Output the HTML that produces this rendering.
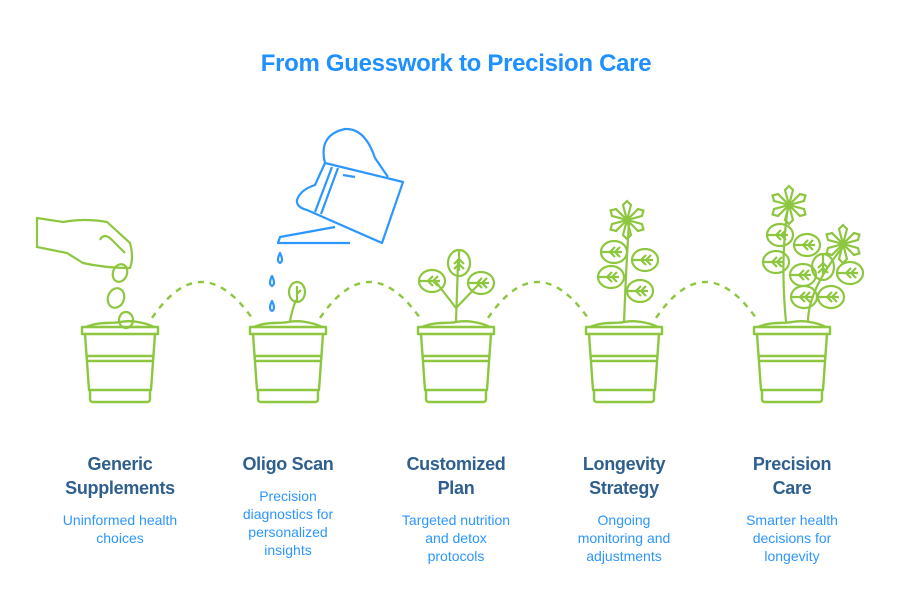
<!DOCTYPE html>
<html><head><meta charset="utf-8"><style>
body{margin:0;width:912px;height:612px;background:#fff;position:relative;overflow:hidden;font-family:"Liberation Sans",sans-serif}
.t{position:absolute;text-align:center;width:170px;}
.h{font-weight:bold;font-size:18px;line-height:24px;color:#2f5f8e;letter-spacing:-0.3px}
.d{font-size:14px;line-height:18px;color:#2d96ff}
h1{position:absolute;top:50px;left:0;width:912px;margin:0;text-align:center;font-size:24px;color:#1e90ff;font-weight:bold;letter-spacing:-0.3px}
</style></head><body>
<h1>From Guesswork to Precision Care</h1>
<svg width="912" height="612" style="position:absolute;left:0;top:0">
<defs>
<g id="pot" fill="none" stroke="#8dc63f" stroke-width="2.4" stroke-linejoin="round">
<path d="M-34,327 C-20,321 -8,324 0,322 C10,320 24,322 34,327"/>
<rect x="-38" y="327" width="76" height="7"/>
<path d="M-35,334 L-31,390 L31,390 L35,334"/>
<line x1="-33" y1="356" x2="33" y2="356"/><line x1="-33" y1="361" x2="33" y2="361"/>
<path d="M-30,390 L-30,399 Q-30,402 -27,402 L27,402 Q30,402 30,399 L30,390"/>
</g>
<g id="leaf" fill="none" stroke="#8dc63f" stroke-width="2.2"><ellipse cx="0" cy="0" rx="13" ry="11"/><path d="M-13,0 L8,0 M1,0 L6,-5 M1,0 L6,5 M-4,0 L1,-5 M-4,0 L1,5"/></g>
<g id="flw" fill="none" stroke="#8dc63f" stroke-width="2.2"><path d="M0,0 L-4,-15 L0,-19 L4,-15 Z"/><path d="M0,0 L-4,-15 L0,-19 L4,-15 Z" transform="rotate(60)"/><path d="M0,0 L-4,-15 L0,-19 L4,-15 Z" transform="rotate(120)"/><path d="M0,0 L-4,-15 L0,-19 L4,-15 Z" transform="rotate(180)"/><path d="M0,0 L-4,-15 L0,-19 L4,-15 Z" transform="rotate(240)"/><path d="M0,0 L-4,-15 L0,-19 L4,-15 Z" transform="rotate(300)"/></g>
</defs>
<g fill="none" stroke="#8dc63f" stroke-width="2.4" stroke-dasharray="6,6">
<path d="M152,318 Q201,246 252,318"/><path d="M320,318 Q369,246 420,318"/><path d="M488,318 Q537,246 588,318"/><path d="M656,318 Q705,246 756,318"/>
</g>
<use href="#pot" x="120"/><use href="#pot" x="288"/><use href="#pot" x="456"/><use href="#pot" x="624"/><use href="#pot" x="792"/>
<g fill="none" stroke="#8dc63f" stroke-width="2.2">
<path d="M37,218 L37,247 L67,253 L83,263 Q105,268 130,268 Q134,258 130,243 L107,222 Q85,218 63,222 Z"/>
<path d="M100,240 Q104,232 112,240 L125,253"/>
<ellipse cx="120" cy="273" rx="7" ry="9" transform="rotate(20 120 273)"/>
<ellipse cx="116" cy="298" rx="8" ry="10" transform="rotate(20 116 298)"/>
<ellipse cx="126" cy="320" rx="7" ry="8"/>
<path d="M290,321 Q292,310 296,300"/><ellipse cx="297" cy="292" rx="8" ry="10"/><path d="M297,286 L297,302 M297,294 L301,290"/>
<path d="M456,322 L458,262 M456,308 L436,282 M456,308 L480,283"/>
<path d="M624,322 Q626,270 629,222"/>
<path d="M786,322 Q780,260 788,207 M808,322 Q808,290 842,248"/>
</g>
<use href="#leaf" x="459" y="263" transform="rotate(90 459 263)"/><use href="#leaf" x="432" y="281"/><use href="#leaf" x="481" y="283"/>
<use href="#flw" x="627" y="220"/>
<use href="#leaf" x="614" y="252"/><use href="#leaf" x="645" y="260"/><use href="#leaf" x="611" y="277"/><use href="#leaf" x="640" y="291"/>
<use href="#flw" x="789" y="205"/><use href="#flw" x="843" y="244"/>
<use href="#leaf" x="780" y="235"/><use href="#leaf" x="807" y="245"/><use href="#leaf" x="776" y="262"/><use href="#leaf" x="803" y="275"/><use href="#leaf" x="823" y="267" transform="rotate(90 823 267)"/><use href="#leaf" x="850" y="273"/><use href="#leaf" x="804" y="297"/><use href="#leaf" x="831" y="297"/>
<g fill="none" stroke="#2d96ff" stroke-width="2.2" stroke-linejoin="round">
<path d="M325,163 L403,182 L382,243 L307,210 Q296,207 297,200 Q300,190 315,185 Z"/>
<path d="M325,163 Q318,135 345,129 Q365,128 375,158 L388,177"/>
<path d="M332,167 L315,212 M338,168 L321,214"/>
<path d="M343,175 L355,177"/>
<path d="M335,227 L280,237 L278,243 L350,243"/>
<path d="M280,253 Q276,261 280,263 Q284,261 280,253Z M272,276 Q268,284 272,286 Q276,284 272,276Z M272,301 Q268,309 272,311 Q276,309 272,301Z"/>
</g>
</svg>
<div class="t" style="left:35px;top:452px"><div class="h">Generic<br>Supplements</div><div class="d" style="margin-top:11px">Uninformed health<br>choices</div></div>
<div class="t" style="left:203px;top:452px"><div class="h">Oligo Scan</div><div class="d" style="margin-top:11px">Precision<br>diagnostics for<br>personalized<br>insights</div></div>
<div class="t" style="left:371px;top:452px"><div class="h">Customized<br>Plan</div><div class="d" style="margin-top:11px">Targeted nutrition<br>and detox<br>protocols</div></div>
<div class="t" style="left:539px;top:452px"><div class="h">Longevity<br>Strategy</div><div class="d" style="margin-top:11px">Ongoing<br>monitoring and<br>adjustments</div></div>
<div class="t" style="left:707px;top:452px"><div class="h">Precision<br>Care</div><div class="d" style="margin-top:11px">Smarter health<br>decisions for<br>longevity</div></div>
</body></html>
